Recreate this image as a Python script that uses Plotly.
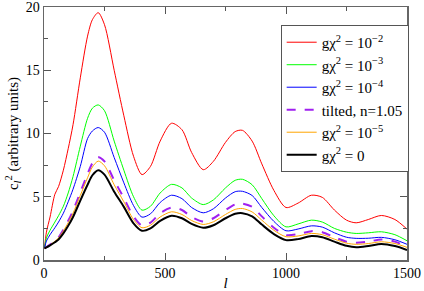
import plotly.graph_objects as go

ell = [2, 10, 25, 45, 60, 80, 100, 120, 150, 180, 200, 224, 250, 290, 330, 370, 405, 440, 480, 527,
       570, 610, 658, 700, 750, 790, 820, 860, 900, 950, 1000, 1050, 1105, 1150, 1200, 1250, 1290,
       1340, 1394, 1450, 1500]

cl_g1e2 = [0.92, 2.2, 3.4, 5.2, 5.8, 7.1, 8.8, 10.7, 14.4, 17.7, 19.0, 19.55, 18.6, 15.0, 11.4, 8.2,
           6.75, 7.4, 9.4, 10.81, 10.3, 8.5, 7.14, 7.8, 9.3, 10.15, 10.25, 9.4, 7.6, 5.5, 4.15, 4.5,
           5.12, 4.95, 3.95, 3.15, 2.94, 3.2, 3.52, 3.2, 2.44]
cl_g1e3 = [0.92, 1.75, 2.35, 3.0, 3.5, 4.25, 5.3, 6.6, 9.0, 11.2, 12.0, 12.26, 11.8, 9.4, 7.1, 5.0,
           3.94, 4.25, 5.3, 5.98, 5.7, 4.9, 4.38, 4.75, 5.7, 6.3, 6.38, 5.95, 4.85, 3.5, 2.62, 2.85,
           3.15, 3.0, 2.5, 2.2, 2.1, 2.15, 2.23, 2.0, 1.52]
cl_g1e4 = [0.92, 1.5, 2.0, 2.55, 3.0, 3.7, 4.6, 5.6, 7.4, 9.6, 10.2, 10.47, 10.1, 8.1, 6.1, 4.3,
           3.39, 3.65, 4.55, 5.12, 4.85, 4.15, 3.73, 4.05, 4.9, 5.4, 5.43, 5.1, 4.15, 3.05, 2.31, 2.45,
           2.7, 2.6, 2.15, 1.8, 1.71, 1.72, 1.79, 1.6, 1.24]
cl_tilt = [0.92, 1.02, 1.22, 1.5, 1.8, 2.4, 3.1, 3.9, 5.35, 6.8, 7.65, 8.13, 7.8, 6.3, 4.9, 3.45,
           2.73, 2.95, 3.7, 4.15, 3.95, 3.4, 3.05, 3.3, 3.95, 4.4, 4.46, 4.2, 3.45, 2.55, 1.97, 2.05,
           2.28, 2.2, 1.8, 1.45, 1.36, 1.45, 1.63, 1.45, 1.05]
cl_g1e5 = [0.92, 1.01, 1.2, 1.47, 1.75, 2.3, 2.95, 3.7, 5.1, 6.5, 7.35, 7.82, 7.45, 5.95, 4.6, 3.2,
           2.55, 2.75, 3.4, 3.81, 3.6, 3.12, 2.81, 3.02, 3.6, 4.0, 4.07, 3.8, 3.15, 2.35, 1.84, 1.9,
           2.1, 2.0, 1.65, 1.33, 1.24, 1.3, 1.44, 1.3, 1.0]
cl_g0 = [0.92, 0.99, 1.15, 1.4, 1.62, 2.1, 2.7, 3.4, 4.7, 5.95, 6.7, 7.1, 6.75, 5.4, 4.2, 2.9,
         2.31, 2.5, 3.1, 3.5, 3.3, 2.85, 2.55, 2.75, 3.3, 3.65, 3.7, 3.45, 2.8, 2.05, 1.57, 1.65,
         1.9, 1.8, 1.45, 1.12, 1.0, 1.1, 1.26, 1.1, 0.79]

x_ticks = [0, 500, 1000, 1500]
y_ticks = [0, 5, 10, 15, 20]

series = [
    ("gχ<sup>2</sup> = 10<sup>−2</sup>", cl_g1e2, "#ff0000", 1, "solid"),
    ("gχ<sup>2</sup> = 10<sup>−3</sup>", cl_g1e3, "#00ff00", 1, "solid"),
    ("gχ<sup>2</sup> = 10<sup>−4</sup>", cl_g1e4, "#0000ff", 1, "solid"),
    ("tilted, n=1.05", cl_tilt, "#a020f0", 2, "dash"),
    ("gχ<sup>2</sup> = 10<sup>−5</sup>", cl_g1e5, "#ffa500", 1, "solid"),
    ("gχ<sup>2</sup> = 0", cl_g0, "#000000", 2, "solid"),
]

fig = go.Figure()
for name, vals, col, w, dash in series:
    fig.add_trace(go.Scatter(x=ell, y=vals, mode="lines", name=name,
                             line=dict(color=col, width=w, dash=dash, shape="spline", smoothing=0.8)))

FAM = "Liberation Serif, Times New Roman, serif"
font = dict(family=FAM, size=15, color="#000")
tfont = dict(family=FAM, size=14, color="#000")
axis_common = dict(showgrid=False, zeroline=False, showline=True, linecolor="#666", linewidth=1.5,
                   mirror="ticks", ticks="inside", ticklen=7, tickwidth=1, tickcolor="#555",
                   tickfont=tfont, automargin=False, ticklabeloverflow="allow")
fig.update_xaxes(range=[0, 1500], tickvals=x_ticks, ticktext=[str(v) for v in x_ticks],
                 minor=dict(ticks="inside", ticklen=4, tickcolor="#555", tickvals=[250, 750, 1250]),
                 title=dict(text="<i>l</i>", font=font, standoff=2), **axis_common)
fig.update_yaxes(range=[0, 20], tickvals=y_ticks, ticktext=[str(v) for v in y_ticks],
                 minor=dict(ticks="inside", ticklen=4, tickcolor="#555", tickvals=[2.5, 7.5, 12.5, 17.5]),
                 title=dict(text="c<sub><i>l</i></sub><sup>2</sup> (arbitrary units)", font=font, standoff=3),
                 **axis_common)
fig.update_layout(
    width=424, height=291,
    margin=dict(l=44, r=17, t=7, b=31),
    paper_bgcolor="white", plot_bgcolor="white",
    font=font,
    showlegend=True,
    legend=dict(x=0.652, y=0.929, xanchor="left", yanchor="top", bgcolor="white",
                bordercolor="#555", borderwidth=1, font=dict(family=FAM, size=15, color="#000"),
                itemwidth=30, tracegroupgap=0),
)
fig.write_html("out.html", config={"displayModeBar": False, "staticPlot": True},
               post_script="document.body.style.margin='0';document.body.style.overflow='hidden';")
